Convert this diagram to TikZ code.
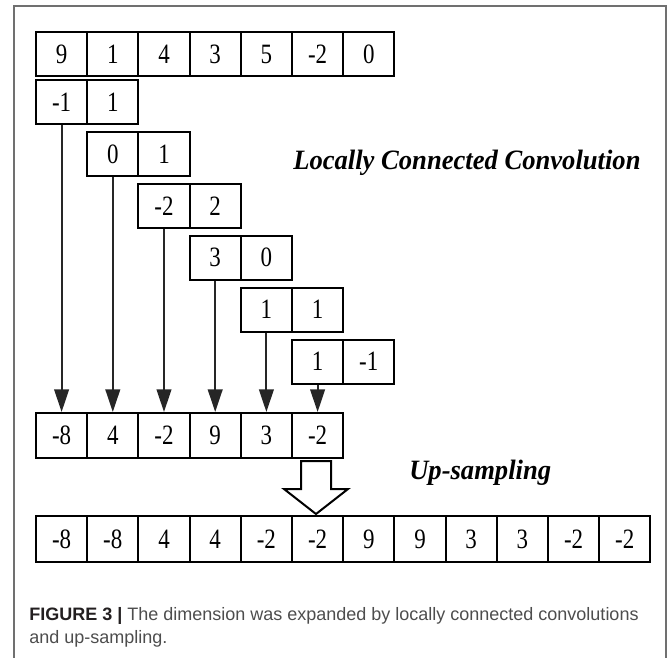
\documentclass[tikz,border=0pt]{standalone}
\usepackage{fontspec}
\setmainfont{Liberation Serif}
\newfontfamily\capfont{Liberation Sans}
\usetikzlibrary{arrows.meta}
\definecolor{framegray}{HTML}{707070}
\definecolor{capgray}{HTML}{4D4D4D}
\definecolor{capdark}{HTML}{231F20}
\definecolor{arrowdark}{HTML}{262626}
\newcommand{\narrow}[1]{\scalebox{0.82}[1]{#1}}
\begin{document}
\begin{tikzpicture}[x=0.75pt,y=-0.75pt,
  cell/.style={draw=black, line width=1.5pt, minimum width=38.4pt, minimum height=33pt, inner sep=0pt, font=\fontsize{21}{21}\selectfont},
  conn/.style={draw=arrowdark, line width=1.5pt, -{Triangle[length=17pt,width=11pt]}},
  label/.style={anchor=west, inner sep=0pt, font=\fontsize{21}{21}\selectfont\bfseries\itshape},
  caption/.style={anchor=base west, inner sep=0pt, font=\capfont\fontsize{13.5}{16}\selectfont, text=capgray}
]
\useasboundingbox (0,0) rectangle (669,658);
% frame
\draw[framegray, line width=0.9pt] (14,658) -- (14,6) -- (666,6) -- (666,658);
% input row
\foreach \v [count=\i from 0] in {9,1,4,3,5,-2,0}
  \node[cell] (t\i) at ({61.6+51.2*\i},54) {\narrow{\v}};
% kernels
\foreach \a/\b [count=\k from 0] in {-1/1, 0/1, -2/2, 3/0, 1/1, 1/-1} {
  \node[cell] (ka\k) at ({61.6+51.2*\k},{102+51.9*\k}) {\narrow{\a}};
  \node[cell] (kb\k) at ({112.8+51.2*\k},{102+51.9*\k}) {\narrow{\b}};
}
% result row
\foreach \v [count=\i from 0] in {-8,4,-2,9,3,-2}
  \node[cell, minimum height=33.75pt] (r\i) at ({61.6+51.2*\i},435.5) {\narrow{\v}};
% connectors
\foreach \k in {0,...,5}
  \draw[conn] (ka\k.south) -- (r\k.north);
% up-sampled row
\foreach \v [count=\i from 0] in {-8,-8,4,4,-2,-2,9,9,3,3,-2,-2}
  \node[cell, minimum height=34.5pt] (u\i) at ({61.6+51.2*\i},539) {\narrow{\v}};
% hollow arrow
\draw[black, line width=1.5pt, fill=white, line join=miter]
  (301,461) -- (331,461) -- (331,489) -- (348,489) -- (316,514) -- (284,489) -- (301,489) -- cycle;
% labels
\node[label] (lcc) at (293,163) {\scalebox{0.95}[1]{Locally Connected Convolution}};
\node[label] (ups) at (409,473) {\scalebox{0.95}[1]{Up-sampling}};
% caption
\node[caption] (cap1) at (29,620) {{\bfseries\color{capdark}FIGURE 3 |} The dimension was expanded by locally connected convolutions};
\node[caption] (cap2) at (29,643) {and up-sampling.};
\end{tikzpicture}
\end{document}
